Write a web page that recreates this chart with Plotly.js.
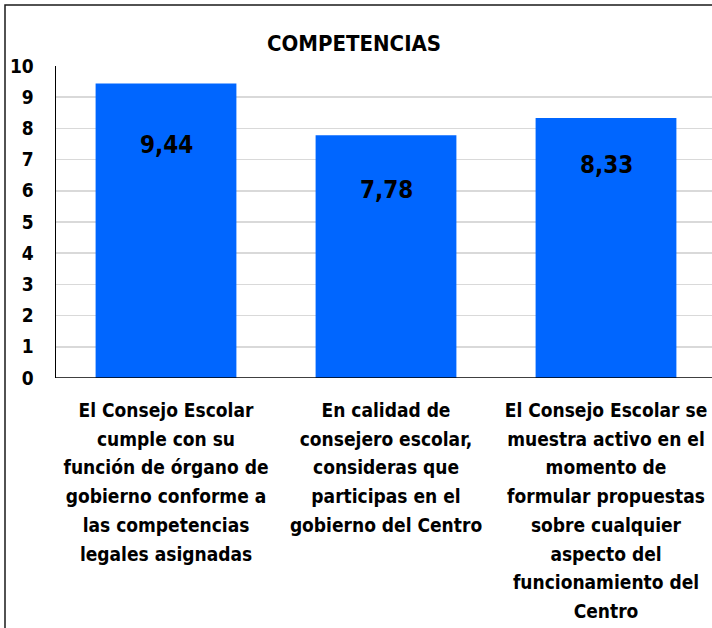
<!DOCTYPE html>
<html>
<head>
<meta charset="utf-8">
<script src="https://cdn.plot.ly/plotly-3.0.1.min.js"></script>
<style>
html,body{margin:0;padding:0;overflow:hidden;background:#fff;}
#chart{width:716px;height:628px;}
</style>
</head>
<body>
<div id="chart"></div>
<script>
const categories = [
  "El Consejo Escolar<br>cumple con su<br>función de órgano de<br>gobierno conforme a<br>las competencias<br>legales asignadas",
  "En calidad de<br>consejero escolar,<br>consideras que<br>participas en el<br>gobierno del Centro",
  "El Consejo Escolar se<br>muestra activo en el<br>momento de<br>formular propuestas<br>sobre cualquier<br>aspecto del<br>funcionamiento del<br>Centro"
];
const values = [9.44, 7.78, 8.33];
const valueLabels = ["9,44", "7,78", "8,33"];
const yTicks = [0,1,2,3,4,5,6,7,8,9,10];
const labelShift = [-62, -55, -47];

const FONT = '"Liberation Sans Narrow", "DejaVu Sans Condensed", Arial, sans-serif';

const boldCats = categories.map(c => '<b>' + c.split('<br>').join('</b><br><b>') + '</b>');

const trace = {
  type: 'bar',
  x: categories,
  y: values,
  marker: {color: '#0066FF'},
  hoverinfo: 'none'
};

const annotations = values.map((v, i) => ({
  x: categories[i], y: v, xref: 'x', yref: 'y',
  text: '<b>' + valueLabels[i] + '</b>',
  showarrow: false, yanchor: 'middle', yshift: labelShift[i],
  font: {family: FONT, size: 24, color: '#000'}
}));

const layout = {
  width: 716, height: 628,
  margin: {l: 56, r: 0, t: 66, b: 250, pad: 0},
  paper_bgcolor: '#fff', plot_bgcolor: '#fff',
  bargap: 0.36,
  showlegend: false,
  title: {text: '<b>COMPETENCIAS</b>', x: 354/716, xref: 'container', xanchor: 'center',
          y: 1 - 43/628, yanchor: 'middle',
          font: {family: FONT, size: 22, color: '#000'}},
  xaxis: {
    showline: false, showgrid: false, zeroline: false, ticks: '',
    tickvals: categories, ticktext: boldCats,
    tickfont: {family: FONT, size: 19, color: '#000'},
    ticklabelstandoff: 19,
    fixedrange: true
  },
  yaxis: {
    range: [0, 10], tickvals: yTicks, ticktext: yTicks.map(t => '<b>' + t + '</b>'),
    showgrid: true, gridcolor: '#d9d9d9', gridwidth: 1.5,
    showline: true, linecolor: '#000', linewidth: 1.5,
    zeroline: false, ticks: '',
    ticklabelstandoff: 17,
    tickfont: {family: FONT, size: 19, color: '#000'},
    fixedrange: true
  },
  shapes: [
    {type: 'line', xref: 'paper', yref: 'y', x0: 0, x1: 1, y0: 0, y1: 0,
     line: {color: '#000', width: 1.5}},
    {type: 'rect', xref: 'paper', yref: 'paper',
     x0: (5-56)/660, x1: (740-56)/660, y0: (378-660)/312, y1: (378-5)/312,
     line: {color: '#1a1a1a', width: 1.5}, fillcolor: 'rgba(0,0,0,0)'}
  ],
  annotations: annotations
};

Plotly.newPlot('chart', [trace], layout, {displayModeBar: false, staticPlot: true}).then(gd => {
  // widen line spacing of category labels to match the reference
  const factor = 28.7 / 24.7;
  gd.querySelectorAll('.xtick text tspan.line').forEach(t => {
    const dy = t.getAttribute('dy');
    if (dy) {
      const v = parseFloat(dy);
      const unit = dy.replace(/^[-0-9.]+/, '');
      t.setAttribute('dy', (v * factor) + unit);
    }
  });
});
</script>
</body>
</html>
